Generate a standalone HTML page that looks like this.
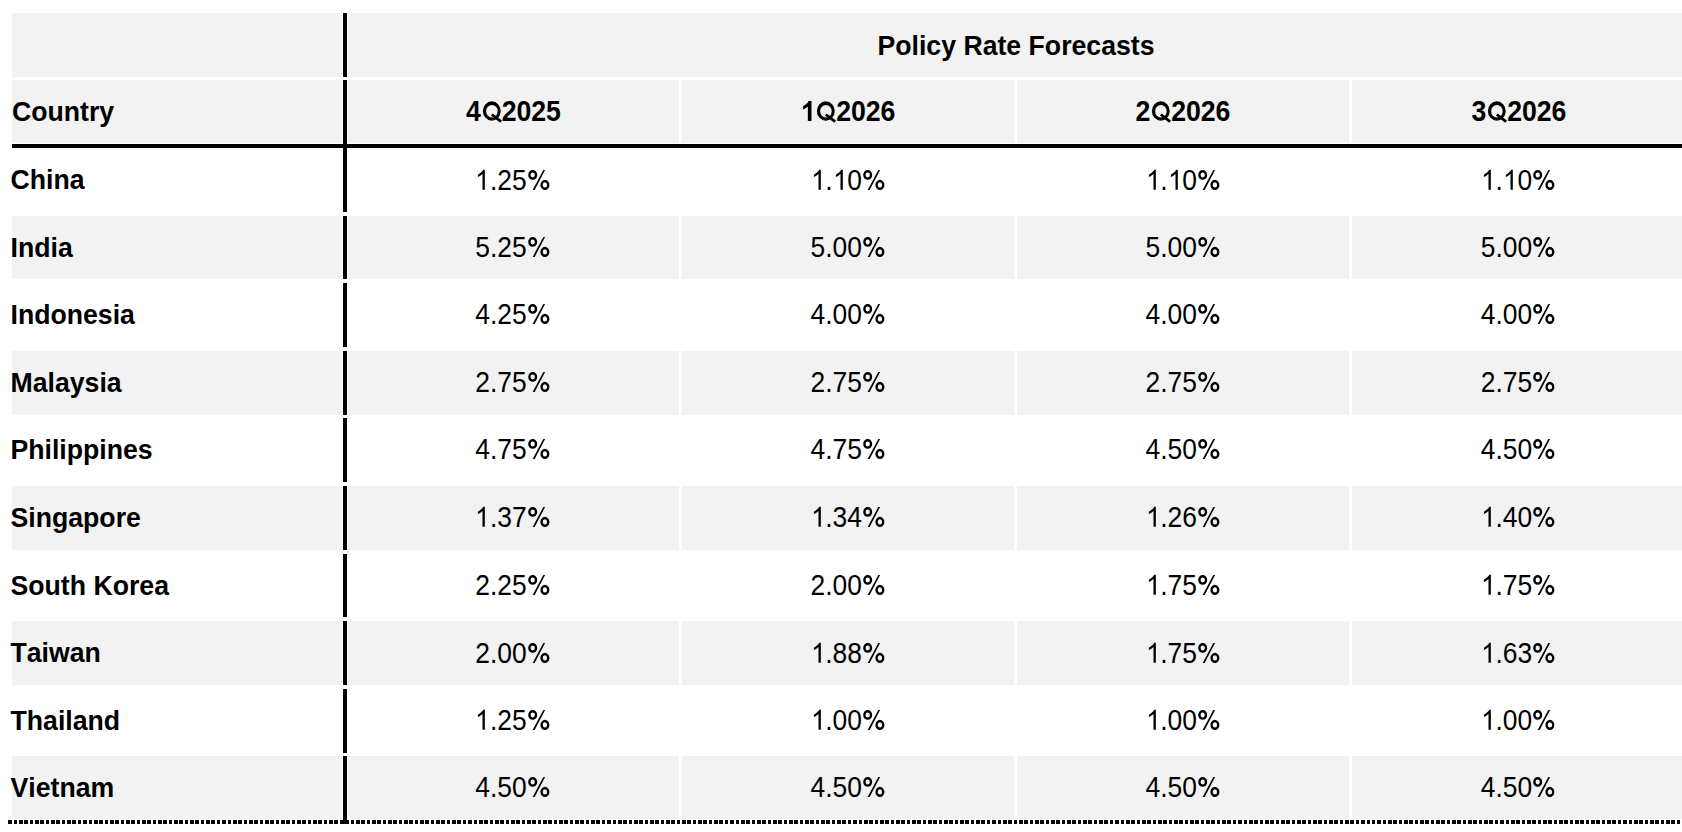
<!DOCTYPE html>
<html><head><meta charset="utf-8"><style>
html,body{margin:0;padding:0;background:#fff;}
body{width:1682px;height:832px;position:relative;overflow:hidden;}
.r{position:absolute;}
.t,.b{position:absolute;height:64px;line-height:64px;font-family:"Liberation Sans",sans-serif;color:#000;white-space:nowrap;font-kerning:none;}
.b{font-weight:700;font-size:26.67px;transform:scaleY(1.05);transform-origin:0 41px;}
.pct{display:inline-block;vertical-align:baseline;width:0.88916em;height:0.75em;overflow:visible;fill:#000;}
.q{display:inline-block;vertical-align:baseline;width:0.77783em;height:0.75em;overflow:visible;fill:#000;}
.one{display:inline-block;vertical-align:baseline;width:0.55615em;height:0.75em;overflow:visible;fill:#000;}
.b.h{transform:scaleY(1.105);}
.t{font-weight:400;font-size:26.4px;transform:scaleY(1.115);transform-origin:0 41px;}
</style></head><body>
<div class="r" style="left:12px;top:13px;width:330px;height:64px;background:#f2f2f2"></div>
<div class="r" style="left:348px;top:13px;width:1334px;height:64px;background:#f2f2f2"></div>
<div class="r" style="left:343px;top:13px;width:4px;height:64px;background:#000"></div>
<div class="b" style="left:348px;top:14px;width:1336px;text-align:center;">Policy Rate Forecasts</div>
<div class="r" style="left:12px;top:80px;width:330px;height:63px;background:#f2f2f2"></div>
<div class="r" style="left:348px;top:80px;width:331px;height:63px;background:#f2f2f2"></div>
<div class="r" style="left:682px;top:80px;width:332px;height:63px;background:#f2f2f2"></div>
<div class="r" style="left:1017px;top:80px;width:332px;height:63px;background:#f2f2f2"></div>
<div class="r" style="left:1352px;top:80px;width:330px;height:63px;background:#f2f2f2"></div>
<div class="r" style="left:343px;top:80px;width:4px;height:68px;background:#000"></div>
<div class="r" style="left:12px;top:144px;width:1670px;height:4px;background:#000"></div>
<div class="b" style="left:12px;top:80px;width:330px;text-align:left;padding-left:0px">Country</div>
<div class="b h" style="left:348px;top:80px;width:331px;text-align:center;">4<svg class="q" viewBox="0 0 1593 1536"><g transform="matrix(1 0 0 -1 0 1536)"><path fill-rule="evenodd" d="M 143 696 A 687 672 0 1 0 1517 696 A 687 672 0 1 0 143 696 Z M 396 679 A 444 433 0 1 0 1284 679 A 444 433 0 1 0 396 679 Z "/><path d="M 763 374 L 897 526 L 1611 31 L 1477 -121 Z"/></g></svg>2025</div>
<div class="b h" style="left:682px;top:80px;width:332px;text-align:center;"><svg class="one" viewBox="0 0 1139 1536"><path transform="matrix(1 0 0 -0.9502262443438915 0 1536)" d="M 806 0 L 525 0 L 525 1059 C 423 963 302 892 162 846 L 162 1101 C 236 1125 316 1171 402 1238 C 488 1305 547 1382 578 1470 L 806 1470 Z"/></svg><svg class="q" viewBox="0 0 1593 1536"><g transform="matrix(1 0 0 -1 0 1536)"><path fill-rule="evenodd" d="M 143 696 A 687 672 0 1 0 1517 696 A 687 672 0 1 0 143 696 Z M 396 679 A 444 433 0 1 0 1284 679 A 444 433 0 1 0 396 679 Z "/><path d="M 763 374 L 897 526 L 1611 31 L 1477 -121 Z"/></g></svg>2026</div>
<div class="b h" style="left:1017px;top:80px;width:332px;text-align:center;">2<svg class="q" viewBox="0 0 1593 1536"><g transform="matrix(1 0 0 -1 0 1536)"><path fill-rule="evenodd" d="M 143 696 A 687 672 0 1 0 1517 696 A 687 672 0 1 0 143 696 Z M 396 679 A 444 433 0 1 0 1284 679 A 444 433 0 1 0 396 679 Z "/><path d="M 763 374 L 897 526 L 1611 31 L 1477 -121 Z"/></g></svg>2026</div>
<div class="b h" style="left:1352px;top:80px;width:334px;text-align:center;">3<svg class="q" viewBox="0 0 1593 1536"><g transform="matrix(1 0 0 -1 0 1536)"><path fill-rule="evenodd" d="M 143 696 A 687 672 0 1 0 1517 696 A 687 672 0 1 0 143 696 Z M 396 679 A 444 433 0 1 0 1284 679 A 444 433 0 1 0 396 679 Z "/><path d="M 763 374 L 897 526 L 1611 31 L 1477 -121 Z"/></g></svg>2026</div>
<div class="r" style="left:343px;top:148px;width:4px;height:64px;background:#000"></div>
<div class="b" style="left:10.5px;top:148px;width:331.5px;text-align:left;">China</div>
<div class="t" style="left:347.2px;top:149px;width:331.00000000000006px;text-align:center;"><svg class="one" viewBox="0 0 1139 1536"><path transform="matrix(1 0 0 -0.9507 0 1536)" d="M 763 0 L 583 0 L 583 1147 C 540 1106 483 1064 413 1023 C 343 982 280 951 223 930 L 223 1104 C 323 1151 410 1208 485 1275 C 560 1342 612 1406 643 1466 L 763 1466 Z"/></svg>.25<svg class="pct" viewBox="0 0 1821 1536"><g transform="matrix(1 0 0 -0.9507 0 1536)"><ellipse cx="442" cy="1087" rx="258" ry="272" fill="none" stroke="#000" stroke-width="180"/><ellipse cx="1389" cy="355" rx="259" ry="280" fill="none" stroke="#000" stroke-width="180"/><path d="M 439 -15 L 594 -15 L 1405 1450 L 1265 1450 Z"/></g></svg></div>
<div class="t" style="left:682px;top:149px;width:332px;text-align:center;"><svg class="one" viewBox="0 0 1139 1536"><path transform="matrix(1 0 0 -0.9507 0 1536)" d="M 763 0 L 583 0 L 583 1147 C 540 1106 483 1064 413 1023 C 343 982 280 951 223 930 L 223 1104 C 323 1151 410 1208 485 1275 C 560 1342 612 1406 643 1466 L 763 1466 Z"/></svg>.<svg class="one" viewBox="0 0 1139 1536"><path transform="matrix(1 0 0 -0.9507 0 1536)" d="M 763 0 L 583 0 L 583 1147 C 540 1106 483 1064 413 1023 C 343 982 280 951 223 930 L 223 1104 C 323 1151 410 1208 485 1275 C 560 1342 612 1406 643 1466 L 763 1466 Z"/></svg>0<svg class="pct" viewBox="0 0 1821 1536"><g transform="matrix(1 0 0 -0.9507 0 1536)"><ellipse cx="442" cy="1087" rx="258" ry="272" fill="none" stroke="#000" stroke-width="180"/><ellipse cx="1389" cy="355" rx="259" ry="280" fill="none" stroke="#000" stroke-width="180"/><path d="M 439 -15 L 594 -15 L 1405 1450 L 1265 1450 Z"/></g></svg></div>
<div class="t" style="left:1017px;top:149px;width:332px;text-align:center;"><svg class="one" viewBox="0 0 1139 1536"><path transform="matrix(1 0 0 -0.9507 0 1536)" d="M 763 0 L 583 0 L 583 1147 C 540 1106 483 1064 413 1023 C 343 982 280 951 223 930 L 223 1104 C 323 1151 410 1208 485 1275 C 560 1342 612 1406 643 1466 L 763 1466 Z"/></svg>.<svg class="one" viewBox="0 0 1139 1536"><path transform="matrix(1 0 0 -0.9507 0 1536)" d="M 763 0 L 583 0 L 583 1147 C 540 1106 483 1064 413 1023 C 343 982 280 951 223 930 L 223 1104 C 323 1151 410 1208 485 1275 C 560 1342 612 1406 643 1466 L 763 1466 Z"/></svg>0<svg class="pct" viewBox="0 0 1821 1536"><g transform="matrix(1 0 0 -0.9507 0 1536)"><ellipse cx="442" cy="1087" rx="258" ry="272" fill="none" stroke="#000" stroke-width="180"/><ellipse cx="1389" cy="355" rx="259" ry="280" fill="none" stroke="#000" stroke-width="180"/><path d="M 439 -15 L 594 -15 L 1405 1450 L 1265 1450 Z"/></g></svg></div>
<div class="t" style="left:1351.2px;top:149px;width:334.0px;text-align:center;"><svg class="one" viewBox="0 0 1139 1536"><path transform="matrix(1 0 0 -0.9507 0 1536)" d="M 763 0 L 583 0 L 583 1147 C 540 1106 483 1064 413 1023 C 343 982 280 951 223 930 L 223 1104 C 323 1151 410 1208 485 1275 C 560 1342 612 1406 643 1466 L 763 1466 Z"/></svg>.<svg class="one" viewBox="0 0 1139 1536"><path transform="matrix(1 0 0 -0.9507 0 1536)" d="M 763 0 L 583 0 L 583 1147 C 540 1106 483 1064 413 1023 C 343 982 280 951 223 930 L 223 1104 C 323 1151 410 1208 485 1275 C 560 1342 612 1406 643 1466 L 763 1466 Z"/></svg>0<svg class="pct" viewBox="0 0 1821 1536"><g transform="matrix(1 0 0 -0.9507 0 1536)"><ellipse cx="442" cy="1087" rx="258" ry="272" fill="none" stroke="#000" stroke-width="180"/><ellipse cx="1389" cy="355" rx="259" ry="280" fill="none" stroke="#000" stroke-width="180"/><path d="M 439 -15 L 594 -15 L 1405 1450 L 1265 1450 Z"/></g></svg></div>
<div class="r" style="left:12px;top:216px;width:330px;height:63px;background:#f2f2f2"></div>
<div class="r" style="left:348px;top:216px;width:331px;height:63px;background:#f2f2f2"></div>
<div class="r" style="left:682px;top:216px;width:332px;height:63px;background:#f2f2f2"></div>
<div class="r" style="left:1017px;top:216px;width:332px;height:63px;background:#f2f2f2"></div>
<div class="r" style="left:1352px;top:216px;width:330px;height:63px;background:#f2f2f2"></div>
<div class="r" style="left:343px;top:216px;width:4px;height:63px;background:#000"></div>
<div class="b" style="left:10.5px;top:216px;width:331.5px;text-align:left;">India</div>
<div class="t" style="left:347.2px;top:216px;width:331.00000000000006px;text-align:center;">5.25<svg class="pct" viewBox="0 0 1821 1536"><g transform="matrix(1 0 0 -0.9507 0 1536)"><ellipse cx="442" cy="1087" rx="258" ry="272" fill="none" stroke="#000" stroke-width="180"/><ellipse cx="1389" cy="355" rx="259" ry="280" fill="none" stroke="#000" stroke-width="180"/><path d="M 439 -15 L 594 -15 L 1405 1450 L 1265 1450 Z"/></g></svg></div>
<div class="t" style="left:682px;top:216px;width:332px;text-align:center;">5.00<svg class="pct" viewBox="0 0 1821 1536"><g transform="matrix(1 0 0 -0.9507 0 1536)"><ellipse cx="442" cy="1087" rx="258" ry="272" fill="none" stroke="#000" stroke-width="180"/><ellipse cx="1389" cy="355" rx="259" ry="280" fill="none" stroke="#000" stroke-width="180"/><path d="M 439 -15 L 594 -15 L 1405 1450 L 1265 1450 Z"/></g></svg></div>
<div class="t" style="left:1017px;top:216px;width:332px;text-align:center;">5.00<svg class="pct" viewBox="0 0 1821 1536"><g transform="matrix(1 0 0 -0.9507 0 1536)"><ellipse cx="442" cy="1087" rx="258" ry="272" fill="none" stroke="#000" stroke-width="180"/><ellipse cx="1389" cy="355" rx="259" ry="280" fill="none" stroke="#000" stroke-width="180"/><path d="M 439 -15 L 594 -15 L 1405 1450 L 1265 1450 Z"/></g></svg></div>
<div class="t" style="left:1351.2px;top:216px;width:334.0px;text-align:center;">5.00<svg class="pct" viewBox="0 0 1821 1536"><g transform="matrix(1 0 0 -0.9507 0 1536)"><ellipse cx="442" cy="1087" rx="258" ry="272" fill="none" stroke="#000" stroke-width="180"/><ellipse cx="1389" cy="355" rx="259" ry="280" fill="none" stroke="#000" stroke-width="180"/><path d="M 439 -15 L 594 -15 L 1405 1450 L 1265 1450 Z"/></g></svg></div>
<div class="r" style="left:343px;top:283px;width:4px;height:64px;background:#000"></div>
<div class="b" style="left:10.5px;top:283px;width:331.5px;text-align:left;">Indonesia</div>
<div class="t" style="left:347.2px;top:283px;width:331.00000000000006px;text-align:center;">4.25<svg class="pct" viewBox="0 0 1821 1536"><g transform="matrix(1 0 0 -0.9507 0 1536)"><ellipse cx="442" cy="1087" rx="258" ry="272" fill="none" stroke="#000" stroke-width="180"/><ellipse cx="1389" cy="355" rx="259" ry="280" fill="none" stroke="#000" stroke-width="180"/><path d="M 439 -15 L 594 -15 L 1405 1450 L 1265 1450 Z"/></g></svg></div>
<div class="t" style="left:682px;top:283px;width:332px;text-align:center;">4.00<svg class="pct" viewBox="0 0 1821 1536"><g transform="matrix(1 0 0 -0.9507 0 1536)"><ellipse cx="442" cy="1087" rx="258" ry="272" fill="none" stroke="#000" stroke-width="180"/><ellipse cx="1389" cy="355" rx="259" ry="280" fill="none" stroke="#000" stroke-width="180"/><path d="M 439 -15 L 594 -15 L 1405 1450 L 1265 1450 Z"/></g></svg></div>
<div class="t" style="left:1017px;top:283px;width:332px;text-align:center;">4.00<svg class="pct" viewBox="0 0 1821 1536"><g transform="matrix(1 0 0 -0.9507 0 1536)"><ellipse cx="442" cy="1087" rx="258" ry="272" fill="none" stroke="#000" stroke-width="180"/><ellipse cx="1389" cy="355" rx="259" ry="280" fill="none" stroke="#000" stroke-width="180"/><path d="M 439 -15 L 594 -15 L 1405 1450 L 1265 1450 Z"/></g></svg></div>
<div class="t" style="left:1351.2px;top:283px;width:334.0px;text-align:center;">4.00<svg class="pct" viewBox="0 0 1821 1536"><g transform="matrix(1 0 0 -0.9507 0 1536)"><ellipse cx="442" cy="1087" rx="258" ry="272" fill="none" stroke="#000" stroke-width="180"/><ellipse cx="1389" cy="355" rx="259" ry="280" fill="none" stroke="#000" stroke-width="180"/><path d="M 439 -15 L 594 -15 L 1405 1450 L 1265 1450 Z"/></g></svg></div>
<div class="r" style="left:12px;top:351px;width:330px;height:64px;background:#f2f2f2"></div>
<div class="r" style="left:348px;top:351px;width:331px;height:64px;background:#f2f2f2"></div>
<div class="r" style="left:682px;top:351px;width:332px;height:64px;background:#f2f2f2"></div>
<div class="r" style="left:1017px;top:351px;width:332px;height:64px;background:#f2f2f2"></div>
<div class="r" style="left:1352px;top:351px;width:330px;height:64px;background:#f2f2f2"></div>
<div class="r" style="left:343px;top:351px;width:4px;height:64px;background:#000"></div>
<div class="b" style="left:10.5px;top:351px;width:331.5px;text-align:left;">Malaysia</div>
<div class="t" style="left:347.2px;top:351px;width:331.00000000000006px;text-align:center;">2.75<svg class="pct" viewBox="0 0 1821 1536"><g transform="matrix(1 0 0 -0.9507 0 1536)"><ellipse cx="442" cy="1087" rx="258" ry="272" fill="none" stroke="#000" stroke-width="180"/><ellipse cx="1389" cy="355" rx="259" ry="280" fill="none" stroke="#000" stroke-width="180"/><path d="M 439 -15 L 594 -15 L 1405 1450 L 1265 1450 Z"/></g></svg></div>
<div class="t" style="left:682px;top:351px;width:332px;text-align:center;">2.75<svg class="pct" viewBox="0 0 1821 1536"><g transform="matrix(1 0 0 -0.9507 0 1536)"><ellipse cx="442" cy="1087" rx="258" ry="272" fill="none" stroke="#000" stroke-width="180"/><ellipse cx="1389" cy="355" rx="259" ry="280" fill="none" stroke="#000" stroke-width="180"/><path d="M 439 -15 L 594 -15 L 1405 1450 L 1265 1450 Z"/></g></svg></div>
<div class="t" style="left:1017px;top:351px;width:332px;text-align:center;">2.75<svg class="pct" viewBox="0 0 1821 1536"><g transform="matrix(1 0 0 -0.9507 0 1536)"><ellipse cx="442" cy="1087" rx="258" ry="272" fill="none" stroke="#000" stroke-width="180"/><ellipse cx="1389" cy="355" rx="259" ry="280" fill="none" stroke="#000" stroke-width="180"/><path d="M 439 -15 L 594 -15 L 1405 1450 L 1265 1450 Z"/></g></svg></div>
<div class="t" style="left:1351.2px;top:351px;width:334.0px;text-align:center;">2.75<svg class="pct" viewBox="0 0 1821 1536"><g transform="matrix(1 0 0 -0.9507 0 1536)"><ellipse cx="442" cy="1087" rx="258" ry="272" fill="none" stroke="#000" stroke-width="180"/><ellipse cx="1389" cy="355" rx="259" ry="280" fill="none" stroke="#000" stroke-width="180"/><path d="M 439 -15 L 594 -15 L 1405 1450 L 1265 1450 Z"/></g></svg></div>
<div class="r" style="left:343px;top:418px;width:4px;height:64px;background:#000"></div>
<div class="b" style="left:10.5px;top:418px;width:331.5px;text-align:left;">Philippines</div>
<div class="t" style="left:347.2px;top:418px;width:331.00000000000006px;text-align:center;">4.75<svg class="pct" viewBox="0 0 1821 1536"><g transform="matrix(1 0 0 -0.9507 0 1536)"><ellipse cx="442" cy="1087" rx="258" ry="272" fill="none" stroke="#000" stroke-width="180"/><ellipse cx="1389" cy="355" rx="259" ry="280" fill="none" stroke="#000" stroke-width="180"/><path d="M 439 -15 L 594 -15 L 1405 1450 L 1265 1450 Z"/></g></svg></div>
<div class="t" style="left:682px;top:418px;width:332px;text-align:center;">4.75<svg class="pct" viewBox="0 0 1821 1536"><g transform="matrix(1 0 0 -0.9507 0 1536)"><ellipse cx="442" cy="1087" rx="258" ry="272" fill="none" stroke="#000" stroke-width="180"/><ellipse cx="1389" cy="355" rx="259" ry="280" fill="none" stroke="#000" stroke-width="180"/><path d="M 439 -15 L 594 -15 L 1405 1450 L 1265 1450 Z"/></g></svg></div>
<div class="t" style="left:1017px;top:418px;width:332px;text-align:center;">4.50<svg class="pct" viewBox="0 0 1821 1536"><g transform="matrix(1 0 0 -0.9507 0 1536)"><ellipse cx="442" cy="1087" rx="258" ry="272" fill="none" stroke="#000" stroke-width="180"/><ellipse cx="1389" cy="355" rx="259" ry="280" fill="none" stroke="#000" stroke-width="180"/><path d="M 439 -15 L 594 -15 L 1405 1450 L 1265 1450 Z"/></g></svg></div>
<div class="t" style="left:1351.2px;top:418px;width:334.0px;text-align:center;">4.50<svg class="pct" viewBox="0 0 1821 1536"><g transform="matrix(1 0 0 -0.9507 0 1536)"><ellipse cx="442" cy="1087" rx="258" ry="272" fill="none" stroke="#000" stroke-width="180"/><ellipse cx="1389" cy="355" rx="259" ry="280" fill="none" stroke="#000" stroke-width="180"/><path d="M 439 -15 L 594 -15 L 1405 1450 L 1265 1450 Z"/></g></svg></div>
<div class="r" style="left:12px;top:486px;width:330px;height:64px;background:#f2f2f2"></div>
<div class="r" style="left:348px;top:486px;width:331px;height:64px;background:#f2f2f2"></div>
<div class="r" style="left:682px;top:486px;width:332px;height:64px;background:#f2f2f2"></div>
<div class="r" style="left:1017px;top:486px;width:332px;height:64px;background:#f2f2f2"></div>
<div class="r" style="left:1352px;top:486px;width:330px;height:64px;background:#f2f2f2"></div>
<div class="r" style="left:343px;top:486px;width:4px;height:64px;background:#000"></div>
<div class="b" style="left:10.5px;top:486px;width:331.5px;text-align:left;">Singapore</div>
<div class="t" style="left:347.2px;top:486px;width:331.00000000000006px;text-align:center;"><svg class="one" viewBox="0 0 1139 1536"><path transform="matrix(1 0 0 -0.9507 0 1536)" d="M 763 0 L 583 0 L 583 1147 C 540 1106 483 1064 413 1023 C 343 982 280 951 223 930 L 223 1104 C 323 1151 410 1208 485 1275 C 560 1342 612 1406 643 1466 L 763 1466 Z"/></svg>.37<svg class="pct" viewBox="0 0 1821 1536"><g transform="matrix(1 0 0 -0.9507 0 1536)"><ellipse cx="442" cy="1087" rx="258" ry="272" fill="none" stroke="#000" stroke-width="180"/><ellipse cx="1389" cy="355" rx="259" ry="280" fill="none" stroke="#000" stroke-width="180"/><path d="M 439 -15 L 594 -15 L 1405 1450 L 1265 1450 Z"/></g></svg></div>
<div class="t" style="left:682px;top:486px;width:332px;text-align:center;"><svg class="one" viewBox="0 0 1139 1536"><path transform="matrix(1 0 0 -0.9507 0 1536)" d="M 763 0 L 583 0 L 583 1147 C 540 1106 483 1064 413 1023 C 343 982 280 951 223 930 L 223 1104 C 323 1151 410 1208 485 1275 C 560 1342 612 1406 643 1466 L 763 1466 Z"/></svg>.34<svg class="pct" viewBox="0 0 1821 1536"><g transform="matrix(1 0 0 -0.9507 0 1536)"><ellipse cx="442" cy="1087" rx="258" ry="272" fill="none" stroke="#000" stroke-width="180"/><ellipse cx="1389" cy="355" rx="259" ry="280" fill="none" stroke="#000" stroke-width="180"/><path d="M 439 -15 L 594 -15 L 1405 1450 L 1265 1450 Z"/></g></svg></div>
<div class="t" style="left:1017px;top:486px;width:332px;text-align:center;"><svg class="one" viewBox="0 0 1139 1536"><path transform="matrix(1 0 0 -0.9507 0 1536)" d="M 763 0 L 583 0 L 583 1147 C 540 1106 483 1064 413 1023 C 343 982 280 951 223 930 L 223 1104 C 323 1151 410 1208 485 1275 C 560 1342 612 1406 643 1466 L 763 1466 Z"/></svg>.26<svg class="pct" viewBox="0 0 1821 1536"><g transform="matrix(1 0 0 -0.9507 0 1536)"><ellipse cx="442" cy="1087" rx="258" ry="272" fill="none" stroke="#000" stroke-width="180"/><ellipse cx="1389" cy="355" rx="259" ry="280" fill="none" stroke="#000" stroke-width="180"/><path d="M 439 -15 L 594 -15 L 1405 1450 L 1265 1450 Z"/></g></svg></div>
<div class="t" style="left:1351.2px;top:486px;width:334.0px;text-align:center;"><svg class="one" viewBox="0 0 1139 1536"><path transform="matrix(1 0 0 -0.9507 0 1536)" d="M 763 0 L 583 0 L 583 1147 C 540 1106 483 1064 413 1023 C 343 982 280 951 223 930 L 223 1104 C 323 1151 410 1208 485 1275 C 560 1342 612 1406 643 1466 L 763 1466 Z"/></svg>.40<svg class="pct" viewBox="0 0 1821 1536"><g transform="matrix(1 0 0 -0.9507 0 1536)"><ellipse cx="442" cy="1087" rx="258" ry="272" fill="none" stroke="#000" stroke-width="180"/><ellipse cx="1389" cy="355" rx="259" ry="280" fill="none" stroke="#000" stroke-width="180"/><path d="M 439 -15 L 594 -15 L 1405 1450 L 1265 1450 Z"/></g></svg></div>
<div class="r" style="left:343px;top:554px;width:4px;height:63px;background:#000"></div>
<div class="b" style="left:10.5px;top:554px;width:331.5px;text-align:left;">South Korea</div>
<div class="t" style="left:347.2px;top:554px;width:331.00000000000006px;text-align:center;">2.25<svg class="pct" viewBox="0 0 1821 1536"><g transform="matrix(1 0 0 -0.9507 0 1536)"><ellipse cx="442" cy="1087" rx="258" ry="272" fill="none" stroke="#000" stroke-width="180"/><ellipse cx="1389" cy="355" rx="259" ry="280" fill="none" stroke="#000" stroke-width="180"/><path d="M 439 -15 L 594 -15 L 1405 1450 L 1265 1450 Z"/></g></svg></div>
<div class="t" style="left:682px;top:554px;width:332px;text-align:center;">2.00<svg class="pct" viewBox="0 0 1821 1536"><g transform="matrix(1 0 0 -0.9507 0 1536)"><ellipse cx="442" cy="1087" rx="258" ry="272" fill="none" stroke="#000" stroke-width="180"/><ellipse cx="1389" cy="355" rx="259" ry="280" fill="none" stroke="#000" stroke-width="180"/><path d="M 439 -15 L 594 -15 L 1405 1450 L 1265 1450 Z"/></g></svg></div>
<div class="t" style="left:1017px;top:554px;width:332px;text-align:center;"><svg class="one" viewBox="0 0 1139 1536"><path transform="matrix(1 0 0 -0.9507 0 1536)" d="M 763 0 L 583 0 L 583 1147 C 540 1106 483 1064 413 1023 C 343 982 280 951 223 930 L 223 1104 C 323 1151 410 1208 485 1275 C 560 1342 612 1406 643 1466 L 763 1466 Z"/></svg>.75<svg class="pct" viewBox="0 0 1821 1536"><g transform="matrix(1 0 0 -0.9507 0 1536)"><ellipse cx="442" cy="1087" rx="258" ry="272" fill="none" stroke="#000" stroke-width="180"/><ellipse cx="1389" cy="355" rx="259" ry="280" fill="none" stroke="#000" stroke-width="180"/><path d="M 439 -15 L 594 -15 L 1405 1450 L 1265 1450 Z"/></g></svg></div>
<div class="t" style="left:1351.2px;top:554px;width:334.0px;text-align:center;"><svg class="one" viewBox="0 0 1139 1536"><path transform="matrix(1 0 0 -0.9507 0 1536)" d="M 763 0 L 583 0 L 583 1147 C 540 1106 483 1064 413 1023 C 343 982 280 951 223 930 L 223 1104 C 323 1151 410 1208 485 1275 C 560 1342 612 1406 643 1466 L 763 1466 Z"/></svg>.75<svg class="pct" viewBox="0 0 1821 1536"><g transform="matrix(1 0 0 -0.9507 0 1536)"><ellipse cx="442" cy="1087" rx="258" ry="272" fill="none" stroke="#000" stroke-width="180"/><ellipse cx="1389" cy="355" rx="259" ry="280" fill="none" stroke="#000" stroke-width="180"/><path d="M 439 -15 L 594 -15 L 1405 1450 L 1265 1450 Z"/></g></svg></div>
<div class="r" style="left:12px;top:621px;width:330px;height:64px;background:#f2f2f2"></div>
<div class="r" style="left:348px;top:621px;width:331px;height:64px;background:#f2f2f2"></div>
<div class="r" style="left:682px;top:621px;width:332px;height:64px;background:#f2f2f2"></div>
<div class="r" style="left:1017px;top:621px;width:332px;height:64px;background:#f2f2f2"></div>
<div class="r" style="left:1352px;top:621px;width:330px;height:64px;background:#f2f2f2"></div>
<div class="r" style="left:343px;top:621px;width:4px;height:64px;background:#000"></div>
<div class="b" style="left:10.5px;top:621px;width:331.5px;text-align:left;">Taiwan</div>
<div class="t" style="left:347.2px;top:622px;width:331.00000000000006px;text-align:center;">2.00<svg class="pct" viewBox="0 0 1821 1536"><g transform="matrix(1 0 0 -0.9507 0 1536)"><ellipse cx="442" cy="1087" rx="258" ry="272" fill="none" stroke="#000" stroke-width="180"/><ellipse cx="1389" cy="355" rx="259" ry="280" fill="none" stroke="#000" stroke-width="180"/><path d="M 439 -15 L 594 -15 L 1405 1450 L 1265 1450 Z"/></g></svg></div>
<div class="t" style="left:682px;top:622px;width:332px;text-align:center;"><svg class="one" viewBox="0 0 1139 1536"><path transform="matrix(1 0 0 -0.9507 0 1536)" d="M 763 0 L 583 0 L 583 1147 C 540 1106 483 1064 413 1023 C 343 982 280 951 223 930 L 223 1104 C 323 1151 410 1208 485 1275 C 560 1342 612 1406 643 1466 L 763 1466 Z"/></svg>.88<svg class="pct" viewBox="0 0 1821 1536"><g transform="matrix(1 0 0 -0.9507 0 1536)"><ellipse cx="442" cy="1087" rx="258" ry="272" fill="none" stroke="#000" stroke-width="180"/><ellipse cx="1389" cy="355" rx="259" ry="280" fill="none" stroke="#000" stroke-width="180"/><path d="M 439 -15 L 594 -15 L 1405 1450 L 1265 1450 Z"/></g></svg></div>
<div class="t" style="left:1017px;top:622px;width:332px;text-align:center;"><svg class="one" viewBox="0 0 1139 1536"><path transform="matrix(1 0 0 -0.9507 0 1536)" d="M 763 0 L 583 0 L 583 1147 C 540 1106 483 1064 413 1023 C 343 982 280 951 223 930 L 223 1104 C 323 1151 410 1208 485 1275 C 560 1342 612 1406 643 1466 L 763 1466 Z"/></svg>.75<svg class="pct" viewBox="0 0 1821 1536"><g transform="matrix(1 0 0 -0.9507 0 1536)"><ellipse cx="442" cy="1087" rx="258" ry="272" fill="none" stroke="#000" stroke-width="180"/><ellipse cx="1389" cy="355" rx="259" ry="280" fill="none" stroke="#000" stroke-width="180"/><path d="M 439 -15 L 594 -15 L 1405 1450 L 1265 1450 Z"/></g></svg></div>
<div class="t" style="left:1351.2px;top:622px;width:334.0px;text-align:center;"><svg class="one" viewBox="0 0 1139 1536"><path transform="matrix(1 0 0 -0.9507 0 1536)" d="M 763 0 L 583 0 L 583 1147 C 540 1106 483 1064 413 1023 C 343 982 280 951 223 930 L 223 1104 C 323 1151 410 1208 485 1275 C 560 1342 612 1406 643 1466 L 763 1466 Z"/></svg>.63<svg class="pct" viewBox="0 0 1821 1536"><g transform="matrix(1 0 0 -0.9507 0 1536)"><ellipse cx="442" cy="1087" rx="258" ry="272" fill="none" stroke="#000" stroke-width="180"/><ellipse cx="1389" cy="355" rx="259" ry="280" fill="none" stroke="#000" stroke-width="180"/><path d="M 439 -15 L 594 -15 L 1405 1450 L 1265 1450 Z"/></g></svg></div>
<div class="r" style="left:343px;top:689px;width:4px;height:64px;background:#000"></div>
<div class="b" style="left:10.5px;top:689px;width:331.5px;text-align:left;">Thailand</div>
<div class="t" style="left:347.2px;top:689px;width:331.00000000000006px;text-align:center;"><svg class="one" viewBox="0 0 1139 1536"><path transform="matrix(1 0 0 -0.9507 0 1536)" d="M 763 0 L 583 0 L 583 1147 C 540 1106 483 1064 413 1023 C 343 982 280 951 223 930 L 223 1104 C 323 1151 410 1208 485 1275 C 560 1342 612 1406 643 1466 L 763 1466 Z"/></svg>.25<svg class="pct" viewBox="0 0 1821 1536"><g transform="matrix(1 0 0 -0.9507 0 1536)"><ellipse cx="442" cy="1087" rx="258" ry="272" fill="none" stroke="#000" stroke-width="180"/><ellipse cx="1389" cy="355" rx="259" ry="280" fill="none" stroke="#000" stroke-width="180"/><path d="M 439 -15 L 594 -15 L 1405 1450 L 1265 1450 Z"/></g></svg></div>
<div class="t" style="left:682px;top:689px;width:332px;text-align:center;"><svg class="one" viewBox="0 0 1139 1536"><path transform="matrix(1 0 0 -0.9507 0 1536)" d="M 763 0 L 583 0 L 583 1147 C 540 1106 483 1064 413 1023 C 343 982 280 951 223 930 L 223 1104 C 323 1151 410 1208 485 1275 C 560 1342 612 1406 643 1466 L 763 1466 Z"/></svg>.00<svg class="pct" viewBox="0 0 1821 1536"><g transform="matrix(1 0 0 -0.9507 0 1536)"><ellipse cx="442" cy="1087" rx="258" ry="272" fill="none" stroke="#000" stroke-width="180"/><ellipse cx="1389" cy="355" rx="259" ry="280" fill="none" stroke="#000" stroke-width="180"/><path d="M 439 -15 L 594 -15 L 1405 1450 L 1265 1450 Z"/></g></svg></div>
<div class="t" style="left:1017px;top:689px;width:332px;text-align:center;"><svg class="one" viewBox="0 0 1139 1536"><path transform="matrix(1 0 0 -0.9507 0 1536)" d="M 763 0 L 583 0 L 583 1147 C 540 1106 483 1064 413 1023 C 343 982 280 951 223 930 L 223 1104 C 323 1151 410 1208 485 1275 C 560 1342 612 1406 643 1466 L 763 1466 Z"/></svg>.00<svg class="pct" viewBox="0 0 1821 1536"><g transform="matrix(1 0 0 -0.9507 0 1536)"><ellipse cx="442" cy="1087" rx="258" ry="272" fill="none" stroke="#000" stroke-width="180"/><ellipse cx="1389" cy="355" rx="259" ry="280" fill="none" stroke="#000" stroke-width="180"/><path d="M 439 -15 L 594 -15 L 1405 1450 L 1265 1450 Z"/></g></svg></div>
<div class="t" style="left:1351.2px;top:689px;width:334.0px;text-align:center;"><svg class="one" viewBox="0 0 1139 1536"><path transform="matrix(1 0 0 -0.9507 0 1536)" d="M 763 0 L 583 0 L 583 1147 C 540 1106 483 1064 413 1023 C 343 982 280 951 223 930 L 223 1104 C 323 1151 410 1208 485 1275 C 560 1342 612 1406 643 1466 L 763 1466 Z"/></svg>.00<svg class="pct" viewBox="0 0 1821 1536"><g transform="matrix(1 0 0 -0.9507 0 1536)"><ellipse cx="442" cy="1087" rx="258" ry="272" fill="none" stroke="#000" stroke-width="180"/><ellipse cx="1389" cy="355" rx="259" ry="280" fill="none" stroke="#000" stroke-width="180"/><path d="M 439 -15 L 594 -15 L 1405 1450 L 1265 1450 Z"/></g></svg></div>
<div class="r" style="left:12px;top:756px;width:330px;height:63px;background:#f2f2f2"></div>
<div class="r" style="left:348px;top:756px;width:331px;height:63px;background:#f2f2f2"></div>
<div class="r" style="left:682px;top:756px;width:332px;height:63px;background:#f2f2f2"></div>
<div class="r" style="left:1017px;top:756px;width:332px;height:63px;background:#f2f2f2"></div>
<div class="r" style="left:1352px;top:756px;width:330px;height:63px;background:#f2f2f2"></div>
<div class="r" style="left:343px;top:756px;width:4px;height:63px;background:#000"></div>
<div class="b" style="left:10.5px;top:756px;width:331.5px;text-align:left;">Vietnam</div>
<div class="t" style="left:347.2px;top:756px;width:331.00000000000006px;text-align:center;">4.50<svg class="pct" viewBox="0 0 1821 1536"><g transform="matrix(1 0 0 -0.9507 0 1536)"><ellipse cx="442" cy="1087" rx="258" ry="272" fill="none" stroke="#000" stroke-width="180"/><ellipse cx="1389" cy="355" rx="259" ry="280" fill="none" stroke="#000" stroke-width="180"/><path d="M 439 -15 L 594 -15 L 1405 1450 L 1265 1450 Z"/></g></svg></div>
<div class="t" style="left:682px;top:756px;width:332px;text-align:center;">4.50<svg class="pct" viewBox="0 0 1821 1536"><g transform="matrix(1 0 0 -0.9507 0 1536)"><ellipse cx="442" cy="1087" rx="258" ry="272" fill="none" stroke="#000" stroke-width="180"/><ellipse cx="1389" cy="355" rx="259" ry="280" fill="none" stroke="#000" stroke-width="180"/><path d="M 439 -15 L 594 -15 L 1405 1450 L 1265 1450 Z"/></g></svg></div>
<div class="t" style="left:1017px;top:756px;width:332px;text-align:center;">4.50<svg class="pct" viewBox="0 0 1821 1536"><g transform="matrix(1 0 0 -0.9507 0 1536)"><ellipse cx="442" cy="1087" rx="258" ry="272" fill="none" stroke="#000" stroke-width="180"/><ellipse cx="1389" cy="355" rx="259" ry="280" fill="none" stroke="#000" stroke-width="180"/><path d="M 439 -15 L 594 -15 L 1405 1450 L 1265 1450 Z"/></g></svg></div>
<div class="t" style="left:1351.2px;top:756px;width:334.0px;text-align:center;">4.50<svg class="pct" viewBox="0 0 1821 1536"><g transform="matrix(1 0 0 -0.9507 0 1536)"><ellipse cx="442" cy="1087" rx="258" ry="272" fill="none" stroke="#000" stroke-width="180"/><ellipse cx="1389" cy="355" rx="259" ry="280" fill="none" stroke="#000" stroke-width="180"/><path d="M 439 -15 L 594 -15 L 1405 1450 L 1265 1450 Z"/></g></svg></div>
<div class="r" style="left:343px;top:819px;width:4px;height:5px;background:#000"></div>
<svg class="r" style="left:0;top:0" width="1682" height="832" shape-rendering="crispEdges"><g fill="#000"><rect x="8" y="820" width="4" height="4"/><rect x="14" y="820" width="3" height="4"/><rect x="19" y="820" width="4" height="4"/><rect x="24" y="820" width="4" height="4"/><rect x="30" y="820" width="3" height="4"/><rect x="35" y="820" width="4" height="4"/><rect x="40" y="820" width="4" height="4"/><rect x="46" y="820" width="3" height="4"/><rect x="51" y="820" width="4" height="4"/><rect x="56" y="820" width="4" height="4"/><rect x="62" y="820" width="3" height="4"/><rect x="67" y="820" width="4" height="4"/><rect x="72" y="820" width="4" height="4"/><rect x="78" y="820" width="3" height="4"/><rect x="83" y="820" width="4" height="4"/><rect x="89" y="820" width="3" height="4"/><rect x="94" y="820" width="4" height="4"/><rect x="99" y="820" width="4" height="4"/><rect x="105" y="820" width="3" height="4"/><rect x="110" y="820" width="4" height="4"/><rect x="115" y="820" width="4" height="4"/><rect x="121" y="820" width="3" height="4"/><rect x="126" y="820" width="4" height="4"/><rect x="131" y="820" width="4" height="4"/><rect x="137" y="820" width="3" height="4"/><rect x="142" y="820" width="4" height="4"/><rect x="147" y="820" width="4" height="4"/><rect x="153" y="820" width="3" height="4"/><rect x="158" y="820" width="4" height="4"/><rect x="163" y="820" width="4" height="4"/><rect x="169" y="820" width="3" height="4"/><rect x="174" y="820" width="4" height="4"/><rect x="179" y="820" width="4" height="4"/><rect x="185" y="820" width="3" height="4"/><rect x="190" y="820" width="4" height="4"/><rect x="195" y="820" width="4" height="4"/><rect x="201" y="820" width="3" height="4"/><rect x="206" y="820" width="4" height="4"/><rect x="211" y="820" width="4" height="4"/><rect x="217" y="820" width="3" height="4"/><rect x="222" y="820" width="4" height="4"/><rect x="228" y="820" width="3" height="4"/><rect x="233" y="820" width="4" height="4"/><rect x="238" y="820" width="4" height="4"/><rect x="244" y="820" width="3" height="4"/><rect x="249" y="820" width="4" height="4"/><rect x="254" y="820" width="4" height="4"/><rect x="260" y="820" width="3" height="4"/><rect x="265" y="820" width="4" height="4"/><rect x="270" y="820" width="4" height="4"/><rect x="276" y="820" width="3" height="4"/><rect x="281" y="820" width="4" height="4"/><rect x="286" y="820" width="4" height="4"/><rect x="292" y="820" width="3" height="4"/><rect x="297" y="820" width="4" height="4"/><rect x="302" y="820" width="4" height="4"/><rect x="308" y="820" width="3" height="4"/><rect x="313" y="820" width="4" height="4"/><rect x="318" y="820" width="4" height="4"/><rect x="324" y="820" width="3" height="4"/><rect x="329" y="820" width="4" height="4"/><rect x="334" y="820" width="4" height="4"/><rect x="340" y="820" width="3" height="4"/><rect x="345" y="820" width="4" height="4"/><rect x="351" y="820" width="3" height="4"/><rect x="356" y="820" width="4" height="4"/><rect x="361" y="820" width="4" height="4"/><rect x="367" y="820" width="3" height="4"/><rect x="372" y="820" width="4" height="4"/><rect x="377" y="820" width="4" height="4"/><rect x="383" y="820" width="3" height="4"/><rect x="388" y="820" width="4" height="4"/><rect x="393" y="820" width="4" height="4"/><rect x="399" y="820" width="3" height="4"/><rect x="404" y="820" width="4" height="4"/><rect x="409" y="820" width="4" height="4"/><rect x="415" y="820" width="3" height="4"/><rect x="420" y="820" width="4" height="4"/><rect x="425" y="820" width="4" height="4"/><rect x="431" y="820" width="3" height="4"/><rect x="436" y="820" width="4" height="4"/><rect x="441" y="820" width="4" height="4"/><rect x="447" y="820" width="3" height="4"/><rect x="452" y="820" width="4" height="4"/><rect x="457" y="820" width="4" height="4"/><rect x="463" y="820" width="3" height="4"/><rect x="468" y="820" width="4" height="4"/><rect x="474" y="820" width="3" height="4"/><rect x="479" y="820" width="4" height="4"/><rect x="484" y="820" width="4" height="4"/><rect x="490" y="820" width="3" height="4"/><rect x="495" y="820" width="4" height="4"/><rect x="500" y="820" width="4" height="4"/><rect x="506" y="820" width="3" height="4"/><rect x="511" y="820" width="4" height="4"/><rect x="516" y="820" width="4" height="4"/><rect x="522" y="820" width="3" height="4"/><rect x="527" y="820" width="4" height="4"/><rect x="532" y="820" width="4" height="4"/><rect x="538" y="820" width="3" height="4"/><rect x="543" y="820" width="4" height="4"/><rect x="548" y="820" width="4" height="4"/><rect x="554" y="820" width="3" height="4"/><rect x="559" y="820" width="4" height="4"/><rect x="564" y="820" width="4" height="4"/><rect x="570" y="820" width="3" height="4"/><rect x="575" y="820" width="4" height="4"/><rect x="580" y="820" width="4" height="4"/><rect x="586" y="820" width="3" height="4"/><rect x="591" y="820" width="4" height="4"/><rect x="596" y="820" width="4" height="4"/><rect x="602" y="820" width="3" height="4"/><rect x="607" y="820" width="4" height="4"/><rect x="613" y="820" width="3" height="4"/><rect x="618" y="820" width="4" height="4"/><rect x="623" y="820" width="4" height="4"/><rect x="629" y="820" width="3" height="4"/><rect x="634" y="820" width="4" height="4"/><rect x="639" y="820" width="4" height="4"/><rect x="645" y="820" width="3" height="4"/><rect x="650" y="820" width="4" height="4"/><rect x="655" y="820" width="4" height="4"/><rect x="661" y="820" width="3" height="4"/><rect x="666" y="820" width="4" height="4"/><rect x="671" y="820" width="4" height="4"/><rect x="677" y="820" width="3" height="4"/><rect x="682" y="820" width="4" height="4"/><rect x="687" y="820" width="4" height="4"/><rect x="693" y="820" width="3" height="4"/><rect x="698" y="820" width="4" height="4"/><rect x="703" y="820" width="4" height="4"/><rect x="709" y="820" width="3" height="4"/><rect x="714" y="820" width="4" height="4"/><rect x="719" y="820" width="4" height="4"/><rect x="725" y="820" width="3" height="4"/><rect x="730" y="820" width="4" height="4"/><rect x="736" y="820" width="3" height="4"/><rect x="741" y="820" width="4" height="4"/><rect x="746" y="820" width="4" height="4"/><rect x="752" y="820" width="3" height="4"/><rect x="757" y="820" width="4" height="4"/><rect x="762" y="820" width="4" height="4"/><rect x="768" y="820" width="3" height="4"/><rect x="773" y="820" width="4" height="4"/><rect x="778" y="820" width="4" height="4"/><rect x="784" y="820" width="3" height="4"/><rect x="789" y="820" width="4" height="4"/><rect x="794" y="820" width="4" height="4"/><rect x="800" y="820" width="3" height="4"/><rect x="805" y="820" width="4" height="4"/><rect x="810" y="820" width="4" height="4"/><rect x="816" y="820" width="3" height="4"/><rect x="821" y="820" width="4" height="4"/><rect x="826" y="820" width="4" height="4"/><rect x="832" y="820" width="3" height="4"/><rect x="837" y="820" width="4" height="4"/><rect x="842" y="820" width="4" height="4"/><rect x="848" y="820" width="3" height="4"/><rect x="853" y="820" width="4" height="4"/><rect x="859" y="820" width="3" height="4"/><rect x="864" y="820" width="4" height="4"/><rect x="869" y="820" width="4" height="4"/><rect x="875" y="820" width="3" height="4"/><rect x="880" y="820" width="4" height="4"/><rect x="885" y="820" width="4" height="4"/><rect x="891" y="820" width="3" height="4"/><rect x="896" y="820" width="4" height="4"/><rect x="901" y="820" width="4" height="4"/><rect x="907" y="820" width="3" height="4"/><rect x="912" y="820" width="4" height="4"/><rect x="917" y="820" width="4" height="4"/><rect x="923" y="820" width="3" height="4"/><rect x="928" y="820" width="4" height="4"/><rect x="933" y="820" width="4" height="4"/><rect x="939" y="820" width="3" height="4"/><rect x="944" y="820" width="4" height="4"/><rect x="949" y="820" width="4" height="4"/><rect x="955" y="820" width="3" height="4"/><rect x="960" y="820" width="4" height="4"/><rect x="965" y="820" width="4" height="4"/><rect x="971" y="820" width="3" height="4"/><rect x="976" y="820" width="4" height="4"/><rect x="981" y="820" width="4" height="4"/><rect x="987" y="820" width="3" height="4"/><rect x="992" y="820" width="4" height="4"/><rect x="998" y="820" width="3" height="4"/><rect x="1003" y="820" width="4" height="4"/><rect x="1008" y="820" width="4" height="4"/><rect x="1014" y="820" width="3" height="4"/><rect x="1019" y="820" width="4" height="4"/><rect x="1024" y="820" width="4" height="4"/><rect x="1030" y="820" width="3" height="4"/><rect x="1035" y="820" width="4" height="4"/><rect x="1040" y="820" width="4" height="4"/><rect x="1046" y="820" width="3" height="4"/><rect x="1051" y="820" width="4" height="4"/><rect x="1056" y="820" width="4" height="4"/><rect x="1062" y="820" width="3" height="4"/><rect x="1067" y="820" width="4" height="4"/><rect x="1072" y="820" width="4" height="4"/><rect x="1078" y="820" width="3" height="4"/><rect x="1083" y="820" width="4" height="4"/><rect x="1088" y="820" width="4" height="4"/><rect x="1094" y="820" width="3" height="4"/><rect x="1099" y="820" width="4" height="4"/><rect x="1104" y="820" width="4" height="4"/><rect x="1110" y="820" width="3" height="4"/><rect x="1115" y="820" width="4" height="4"/><rect x="1121" y="820" width="3" height="4"/><rect x="1126" y="820" width="4" height="4"/><rect x="1131" y="820" width="4" height="4"/><rect x="1137" y="820" width="3" height="4"/><rect x="1142" y="820" width="4" height="4"/><rect x="1147" y="820" width="4" height="4"/><rect x="1153" y="820" width="3" height="4"/><rect x="1158" y="820" width="4" height="4"/><rect x="1163" y="820" width="4" height="4"/><rect x="1169" y="820" width="3" height="4"/><rect x="1174" y="820" width="4" height="4"/><rect x="1179" y="820" width="4" height="4"/><rect x="1185" y="820" width="3" height="4"/><rect x="1190" y="820" width="4" height="4"/><rect x="1195" y="820" width="4" height="4"/><rect x="1201" y="820" width="3" height="4"/><rect x="1206" y="820" width="4" height="4"/><rect x="1211" y="820" width="4" height="4"/><rect x="1217" y="820" width="3" height="4"/><rect x="1222" y="820" width="4" height="4"/><rect x="1227" y="820" width="4" height="4"/><rect x="1233" y="820" width="3" height="4"/><rect x="1238" y="820" width="4" height="4"/><rect x="1244" y="820" width="3" height="4"/><rect x="1249" y="820" width="4" height="4"/><rect x="1254" y="820" width="4" height="4"/><rect x="1260" y="820" width="3" height="4"/><rect x="1265" y="820" width="4" height="4"/><rect x="1270" y="820" width="4" height="4"/><rect x="1276" y="820" width="3" height="4"/><rect x="1281" y="820" width="4" height="4"/><rect x="1286" y="820" width="4" height="4"/><rect x="1292" y="820" width="3" height="4"/><rect x="1297" y="820" width="4" height="4"/><rect x="1302" y="820" width="4" height="4"/><rect x="1308" y="820" width="3" height="4"/><rect x="1313" y="820" width="4" height="4"/><rect x="1318" y="820" width="4" height="4"/><rect x="1324" y="820" width="3" height="4"/><rect x="1329" y="820" width="4" height="4"/><rect x="1334" y="820" width="4" height="4"/><rect x="1340" y="820" width="3" height="4"/><rect x="1345" y="820" width="4" height="4"/><rect x="1350" y="820" width="4" height="4"/><rect x="1356" y="820" width="3" height="4"/><rect x="1361" y="820" width="4" height="4"/><rect x="1367" y="820" width="3" height="4"/><rect x="1372" y="820" width="3" height="4"/><rect x="1377" y="820" width="4" height="4"/><rect x="1383" y="820" width="3" height="4"/><rect x="1388" y="820" width="4" height="4"/><rect x="1393" y="820" width="4" height="4"/><rect x="1399" y="820" width="3" height="4"/><rect x="1404" y="820" width="4" height="4"/><rect x="1409" y="820" width="4" height="4"/><rect x="1415" y="820" width="3" height="4"/><rect x="1420" y="820" width="4" height="4"/><rect x="1425" y="820" width="4" height="4"/><rect x="1431" y="820" width="3" height="4"/><rect x="1436" y="820" width="4" height="4"/><rect x="1441" y="820" width="4" height="4"/><rect x="1447" y="820" width="3" height="4"/><rect x="1452" y="820" width="4" height="4"/><rect x="1457" y="820" width="4" height="4"/><rect x="1463" y="820" width="3" height="4"/><rect x="1468" y="820" width="4" height="4"/><rect x="1473" y="820" width="4" height="4"/><rect x="1479" y="820" width="3" height="4"/><rect x="1484" y="820" width="4" height="4"/><rect x="1489" y="820" width="4" height="4"/><rect x="1495" y="820" width="3" height="4"/><rect x="1500" y="820" width="4" height="4"/><rect x="1506" y="820" width="3" height="4"/><rect x="1511" y="820" width="4" height="4"/><rect x="1516" y="820" width="4" height="4"/><rect x="1522" y="820" width="3" height="4"/><rect x="1527" y="820" width="4" height="4"/><rect x="1532" y="820" width="4" height="4"/><rect x="1538" y="820" width="3" height="4"/><rect x="1543" y="820" width="4" height="4"/><rect x="1548" y="820" width="4" height="4"/><rect x="1554" y="820" width="3" height="4"/><rect x="1559" y="820" width="4" height="4"/><rect x="1564" y="820" width="4" height="4"/><rect x="1570" y="820" width="3" height="4"/><rect x="1575" y="820" width="4" height="4"/><rect x="1580" y="820" width="4" height="4"/><rect x="1586" y="820" width="3" height="4"/><rect x="1591" y="820" width="4" height="4"/><rect x="1596" y="820" width="4" height="4"/><rect x="1602" y="820" width="3" height="4"/><rect x="1607" y="820" width="4" height="4"/><rect x="1612" y="820" width="4" height="4"/><rect x="1618" y="820" width="3" height="4"/><rect x="1623" y="820" width="4" height="4"/><rect x="1629" y="820" width="3" height="4"/><rect x="1634" y="820" width="4" height="4"/><rect x="1639" y="820" width="4" height="4"/><rect x="1645" y="820" width="3" height="4"/><rect x="1650" y="820" width="4" height="4"/><rect x="1655" y="820" width="4" height="4"/><rect x="1661" y="820" width="3" height="4"/><rect x="1666" y="820" width="4" height="4"/><rect x="1671" y="820" width="4" height="4"/><rect x="1677" y="820" width="3" height="4"/></g></svg>
</body></html>
